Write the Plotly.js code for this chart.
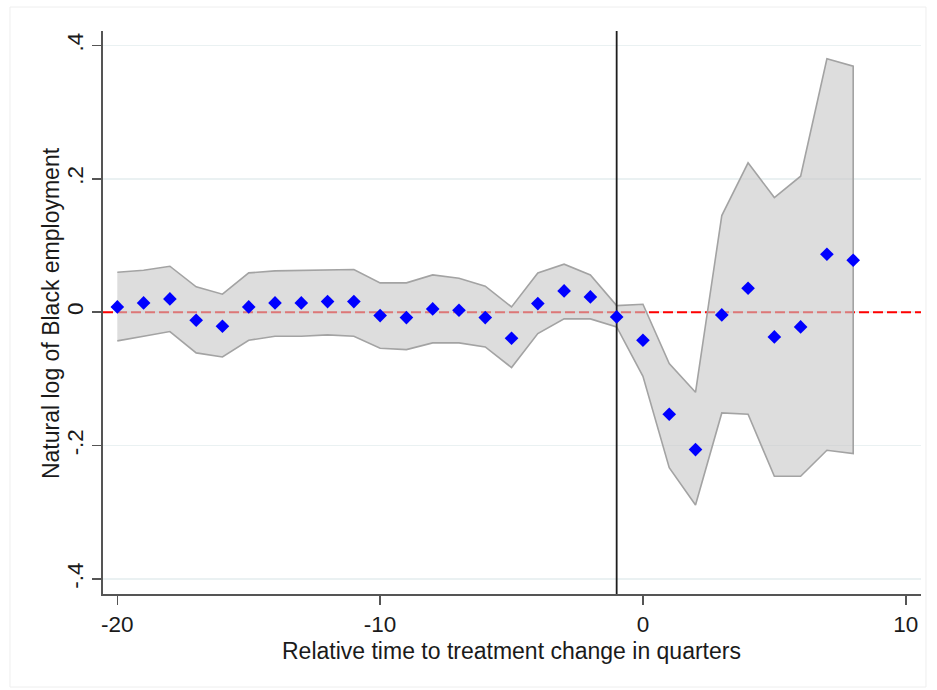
<!DOCTYPE html>
<html>
<head>
<meta charset="utf-8">
<script src="https://cdn.plot.ly/plotly-3.0.1.min.js"></script>
<style>
  html, body { margin: 0; padding: 0; background: #ffffff; }
  #chart { width: 937px; height: 690px; }
</style>
</head>
<body>
<div id="chart"></div>
<script>
// Event-study estimates: quarters relative to the treatment change
const relTime = [-20, -19, -18, -17, -16, -15, -14, -13, -12, -11, -10, -9, -8, -7, -6,
                 -5, -4, -3, -2, -1, 0, 1, 2, 3, 4, 5, 6, 7, 8];

// Point estimates (log of Black employment)
const coef = [0.008, 0.014, 0.020, -0.012, -0.021, 0.008, 0.014, 0.014, 0.016, 0.016,
              -0.005, -0.008, 0.005, 0.003, -0.008, -0.039, 0.013, 0.032, 0.023, -0.007,
              -0.042, -0.153, -0.206, -0.004, 0.036, -0.037, -0.022, 0.087, 0.078];

// Confidence interval bounds
const ciUpper = [0.060, 0.063, 0.069, 0.038, 0.027, 0.059, 0.062, 0.063, 0.063, 0.064,
                 0.044, 0.044, 0.056, 0.051, 0.039, 0.008, 0.059, 0.072, 0.056, 0.010,
                 0.012, -0.077, -0.120, 0.145, 0.224, 0.172, 0.204, 0.380, 0.369];
const ciLower = [-0.043, -0.036, -0.029, -0.061, -0.067, -0.042, -0.036, -0.036, -0.034, -0.036,
                 -0.054, -0.056, -0.046, -0.046, -0.052, -0.083, -0.032, -0.010, -0.010, -0.022,
                 -0.096, -0.233, -0.289, -0.151, -0.153, -0.246, -0.246, -0.207, -0.212];

// Axis ticks
const xTickVals = [-20, -10, 0, 10];
const xTickText = ['-20', '-10', '0', '10'];
const yTickVals = [-0.4, -0.2, 0, 0.2, 0.4];
const yTickText = ['-.4', '-.2', '0', '.2', '.4'];

// Reference period, zero line and axis extents
const refPeriod = -1;
const zeroLevel = 0;
const xRange = [-20.545, 10.58];
const yRange = [-0.4225, 0.4217];

const FONT = '"Liberation Sans", Arial, "DejaVu Sans", sans-serif';
const TEXT_COLOR = '#1a1a1a';

// Closed polygon for the confidence band
const bandX = relTime.concat(relTime.slice().reverse());
const bandY = ciUpper.concat(ciLower.slice().reverse());

const traces = [
  // dashed zero line (drawn first so the band shades it)
  {
    x: xRange, y: [zeroLevel, zeroLevel],
    type: 'scatter', mode: 'lines',
    line: { color: '#ff0000', width: 2, dash: '10px,4px' },
    hoverinfo: 'skip', showlegend: false
  },
  {
    x: bandX, y: bandY,
    type: 'scatter', mode: 'lines',
    fill: 'toself',
    fillcolor: 'rgba(198,198,198,0.6)',
    line: { color: '#a3a3a3', width: 1.6 },
    hoverinfo: 'skip', showlegend: false
  },
  {
    x: [refPeriod, refPeriod], y: yRange,
    type: 'scatter', mode: 'lines',
    line: { color: '#1e1e1e', width: 1.8 },
    hoverinfo: 'skip', showlegend: false, cliponaxis: false
  },
  {
    x: relTime, y: coef,
    type: 'scatter', mode: 'markers',
    marker: { symbol: 'diamond', color: '#0000ff', size: 10.5, line: { width: 0 } },
    showlegend: false
  }
];

const layout = {
  width: 937, height: 690,
  margin: { l: 103, r: 16, t: 31, b: 96 },
  paper_bgcolor: '#ffffff',
  plot_bgcolor: '#ffffff',
  font: { family: FONT, size: 22.5, color: TEXT_COLOR },
  showlegend: false,
  xaxis: {
    range: xRange,
    tickvals: xTickVals, ticktext: xTickText,
    ticks: 'outside', ticklen: 9, tickwidth: 1.5, tickcolor: '#555555',
    showline: true, linecolor: '#555555', linewidth: 1.8,
    showgrid: false, zeroline: false,
    tickfont: { family: FONT, size: 22.5, color: TEXT_COLOR }
  },
  yaxis: {
    range: yRange,
    tickvals: yTickVals, ticktext: yTickText,
    tickangle: -90,
    ticks: 'outside', ticklen: 9, tickwidth: 1.5, tickcolor: '#555555',
    showline: true, linecolor: '#555555', linewidth: 1.8,
    showgrid: true, gridcolor: '#eaf1f2', gridwidth: 1.5,
    zeroline: false,
    tickfont: { family: FONT, size: 22.5, color: TEXT_COLOR }
  },
  annotations: [
    { text: 'Relative time to treatment change in quarters',
      xref: 'paper', yref: 'paper', x: 0.4988, y: -0.1005,
      xanchor: 'center', yanchor: 'middle', showarrow: false,
      font: { family: FONT, size: 23, color: TEXT_COLOR } },
    { text: 'Natural log of Black employment',
      xref: 'paper', yref: 'paper', x: -0.0636, y: 0.499,
      xanchor: 'center', yanchor: 'middle', textangle: -90, showarrow: false,
      font: { family: FONT, size: 23, color: TEXT_COLOR } }
  ],
  shapes: [
    // outer frame of the graph region
    { type: 'rect', xref: 'paper', yref: 'paper',
      x0: -0.1137, x1: 1.0061, y0: -0.1652, y1: 1.0426,
      line: { color: '#eeeeee', width: 1 }, layer: 'below' }
  ]
};

Plotly.newPlot('chart', traces, layout, { displayModeBar: false, staticPlot: true });
</script>
</body>
</html>
